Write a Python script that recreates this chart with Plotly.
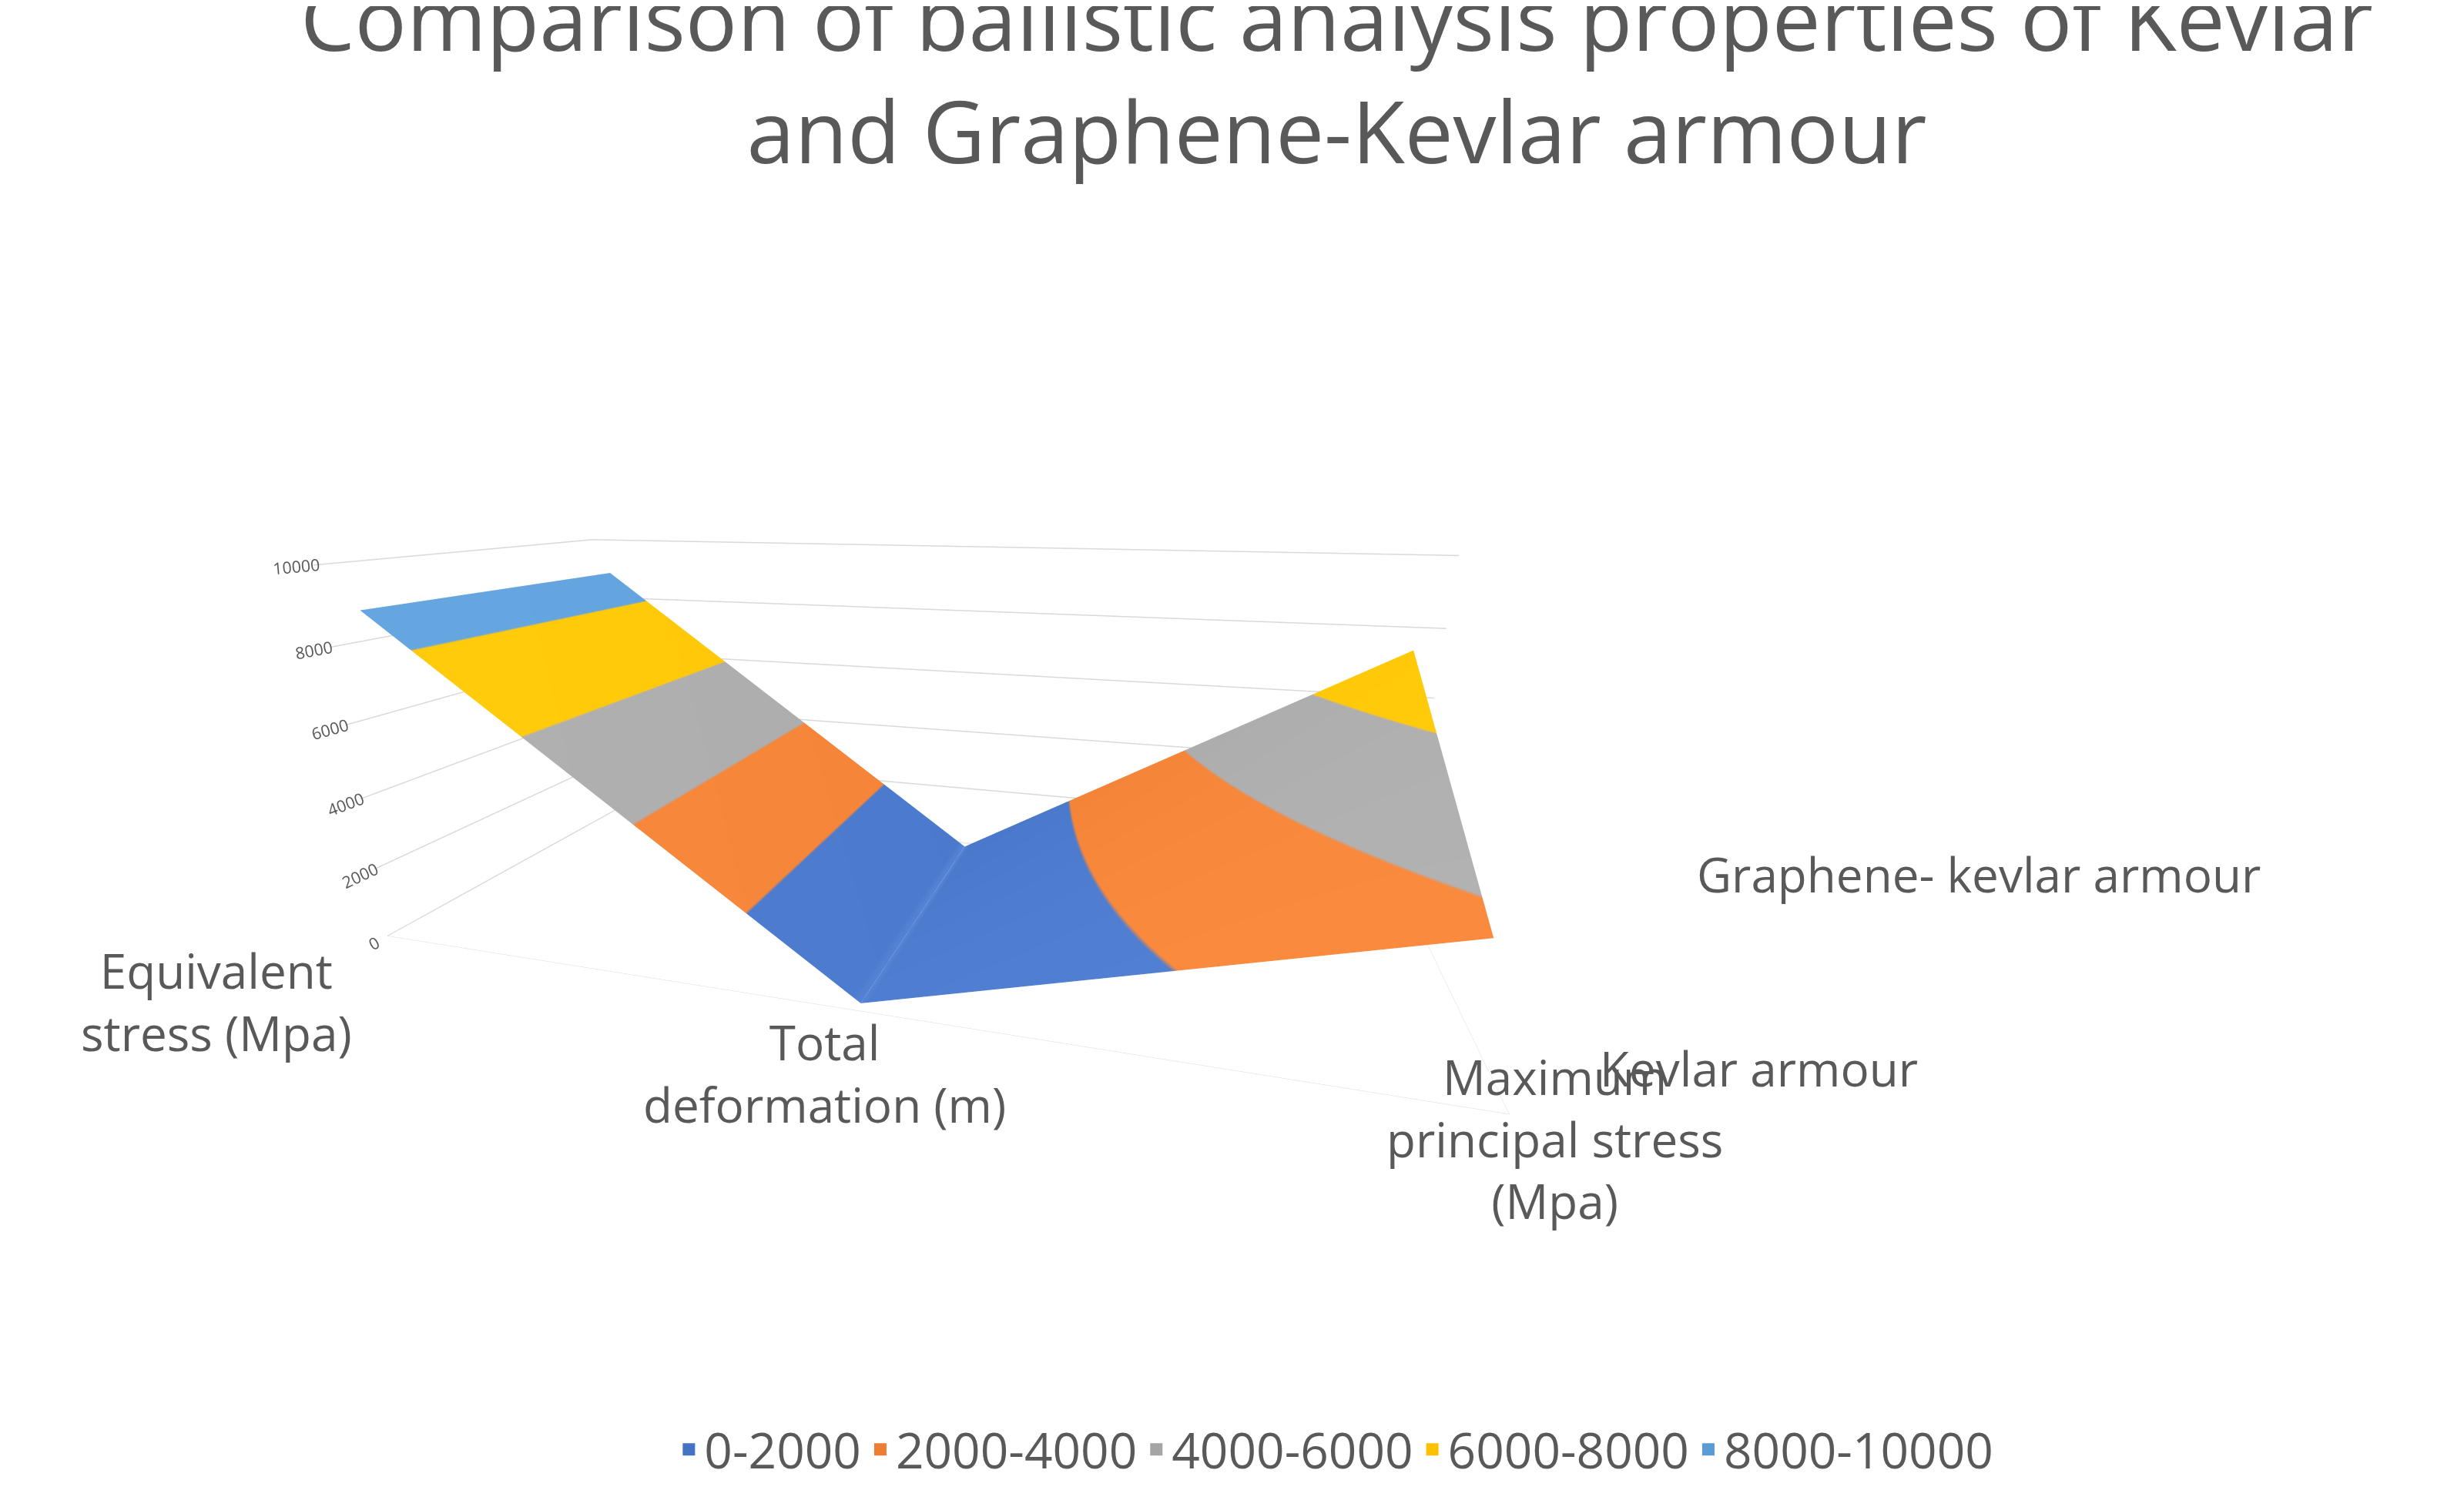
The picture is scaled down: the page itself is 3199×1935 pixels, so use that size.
import plotly.graph_objects as go

categories = ["Equivalent<br>stress (Mpa)", "Total<br>deformation (m)", "Maximum<br>principal stress<br>(Mpa)"]
series = ["Kevlar armour", "Graphene- kevlar armour"]
kevlar = [8900, 0, 3600]
graphene = [8900, 0, 7400]

bands = ["0-2000", "2000-4000", "4000-6000", "6000-8000", "8000-10000"]
band_colors = ["#4472C4", "#ED7D31", "#A5A5A5", "#FFC000", "#5B9BD5"]

scale = []
for i, c in enumerate(band_colors):
    scale.append([i / 5, c])
    scale.append([(i + 1) / 5, c])

fig = go.Figure()
fig.add_trace(go.Surface(
    x=[0, 1, 2], y=[0, 1], z=[kevlar, graphene],
    surfacecolor=[kevlar, graphene], cmin=0, cmax=10000,
    colorscale=scale, showscale=False,
    lighting=dict(ambient=0.85, diffuse=0.3, specular=0.05),
))

for name, c in zip(bands, band_colors):
    fig.add_trace(go.Scatter(x=[None], y=[None], mode="markers", name=name,
                             marker=dict(symbol="square", size=26, color=c)))

# category / series labels as paper annotations
label_pos = [(0.08, 0.33, "center"), (0.33, 0.27, "center"), (0.63, 0.19, "center")]
for (x, y, a), t in zip(label_pos, categories):
    fig.add_annotation(x=x, y=y, xref="paper", yref="paper", text=t, showarrow=False,
                       xanchor=a, align="center", font=dict(size=62, color="#595959"))
for (x, y), t in zip([(0.648, 0.30), (0.688, 0.49)], series):
    fig.add_annotation(x=x, y=y, xref="paper", yref="paper", text=t, showarrow=False,
                       xanchor="left", font=dict(size=62, color="#595959"))

fig.update_layout(
    width=3199, height=1935,
    paper_bgcolor="white", plot_bgcolor="white",
    font=dict(family="Open Sans", color="#595959", size=30),
    title=dict(text="Comparison of ballistic analysis properties of Kevlar<br>and Graphene-Kevlar armour",
               x=0.54, y=0.97, font=dict(size=112, color="#595959")),
    xaxis=dict(visible=False), yaxis=dict(visible=False),
    legend=dict(orientation="h", x=0.54, xanchor="center", y=-0.02, yanchor="bottom",
                font=dict(size=64, color="#595959")),
    margin=dict(l=20, r=20, t=330, b=40),
    scene=dict(
        domain=dict(x=[0, 0.74], y=[0.24, 0.88]),
        xaxis=dict(title="", tickvals=[0, 1, 2], showticklabels=False,
                   showgrid=False, showbackground=False,
                   showline=True, linecolor="#D9D9D9"),
        yaxis=dict(title="", tickvals=[0, 1], showticklabels=False,
                   showgrid=False, showbackground=False,
                   showline=True, linecolor="#D9D9D9"),
        zaxis=dict(title="", range=[0, 10000], dtick=2000, tickformat="d",
                   tickfont=dict(size=16), gridcolor="#D9D9D9", gridwidth=3,
                   showbackground=False),
        aspectmode="manual", aspectratio=dict(x=2.2, y=0.9, z=0.8),
        camera=dict(eye=dict(x=0.55, y=-1.9, z=0.55), center=dict(x=0, y=0, z=-0.1)),
    ),
)

fig.write_html("out.html")
